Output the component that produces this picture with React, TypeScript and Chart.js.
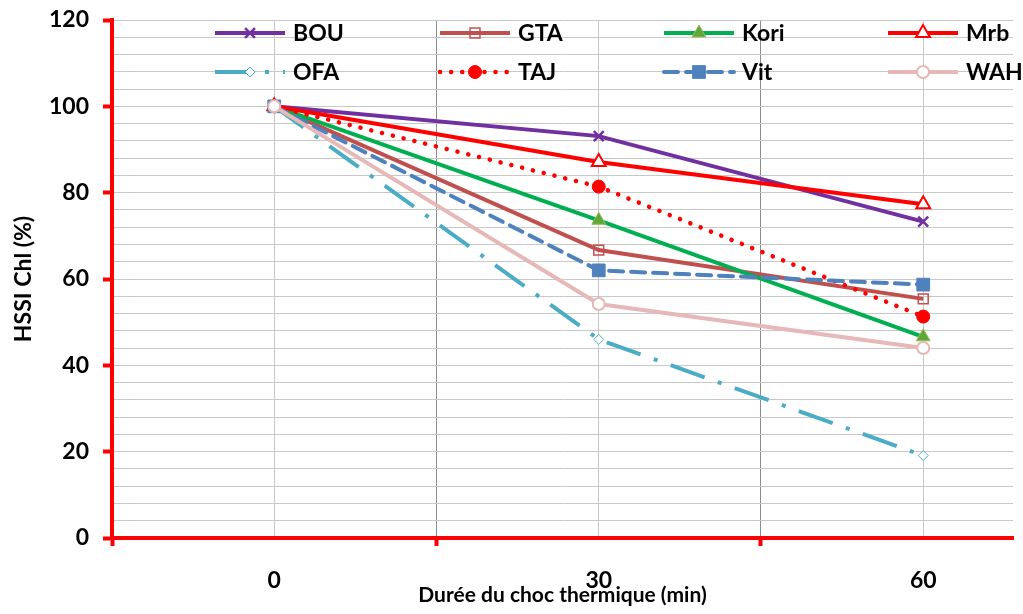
import React, { useEffect, useRef } from 'react';
import { Chart, registerables } from 'chart.js';
import { drawPoint } from 'chart.js/helpers';

Chart.register(...registerables);

// ---- data ----
const durations = [0, 30, 60];
const xTickLabels = ['0', '30', '60'];
const seriesNames = ['BOU', 'GTA', 'Kori', 'Mrb', 'OFA', 'TAJ', 'Vit', 'WAH'];
const bou = [100, 93.1, 73.3];
const gta = [100, 66.7, 55.4];
const kori = [100, 73.6, 46.6];
const mrb = [100, 87.1, 77.3];
const ofa = [100, 46.0, 19.1];
const taj = [100, 81.4, 51.3];
const vit = [100, 62.0, 58.7];
const wah = [100, 54.2, 44.0];
const seriesValues = [bou, gta, kori, mrb, ofa, taj, vit, wah];
const yLabelStep = 20;
const yGridStep = 4;
const xBoundaries = [-15, 15, 45];

// ---- styles ----
const styles = [
  { color: '#7030A0', dash: [], cap: 'butt', width: 4, pointStyle: 'crossRot', radius: 7, fill: '#7030A0', pointBorder: '#7030A0', pbw: 2.5 },
  { color: '#C0504D', dash: [], cap: 'butt', width: 4, pointStyle: 'rect', radius: 7, fill: 'rgba(255,255,255,0)', pointBorder: '#C0504D', pbw: 1.5 },
  { color: '#00B050', dash: [], cap: 'butt', width: 4, pointStyle: 'triangle', radius: 8, fill: '#5DA83A', pointBorder: '#9BBB59', pbw: 1 },
  { color: '#FF0000', dash: [], cap: 'butt', width: 4, pointStyle: 'triangle', radius: 8, fill: '#FFFFFF', pointBorder: '#FF0000', pbw: 2 },
  { color: '#4BACC6', dash: [36, 14, 4, 14], cap: 'butt', width: 4, pointStyle: 'rectRot', radius: 5, fill: '#FFFFFF', pointBorder: '#4BACC6', pbw: 1 },
  { color: '#FF0000', dash: [0.1, 11], cap: 'round', width: 4.5, pointStyle: 'circle', radius: 6.5, fill: '#FF0000', pointBorder: '#FF0000', pbw: 1 },
  { color: '#4F81BD', dash: [14, 8], cap: 'round', width: 4, pointStyle: 'rect', radius: 9, fill: '#4F81BD', pointBorder: '#4F81BD', pbw: 1 },
  { color: '#E6B8B7', dash: [], cap: 'butt', width: 4, pointStyle: 'circle', radius: 6, fill: '#FFFFFF', pointBorder: '#E6B8B7', pbw: 2 },
];

const FONT = 'Lato';

const legendPlugin = {
  id: 'customLegend',
  afterDraw(chart: any) {
    const ctx = chart.ctx;
    const cols = [215, 440, 664, 888];
    const rows = [33, 72];
    chart.data.datasets.forEach((ds: any, i: number) => {
      const x0 = cols[i % 4];
      const y = rows[Math.floor(i / 4)];
      const x1 = x0 + 70;
      ctx.save();
      ctx.strokeStyle = ds.borderColor;
      ctx.lineWidth = ds.borderWidth;
      ctx.lineCap = ds.borderCapStyle || 'butt';
      ctx.setLineDash(ds.borderDash || []);
      ctx.beginPath();
      ctx.moveTo(x0, y);
      ctx.lineTo(x1, y);
      ctx.stroke();
      ctx.setLineDash([]);
      ctx.lineCap = 'butt';
      ctx.fillStyle = ds.pointBackgroundColor;
      ctx.strokeStyle = ds.pointBorderColor;
      ctx.lineWidth = ds.pointBorderWidth;
      drawPoint(ctx, { pointStyle: ds.pointStyle, radius: ds.pointRadius, rotation: 0, borderWidth: ds.pointBorderWidth }, (x0 + x1) / 2, y);
      ctx.fillStyle = '#000';
      ctx.font = `bold 23px ${FONT}`;
      ctx.textBaseline = 'middle';
      ctx.textAlign = 'left';
      ctx.fillText(ds.label, x1 + 8, y + 1);
      ctx.restore();
    });
  },
};

export default function App() {
  const ref = useRef<HTMLCanvasElement>(null);
  useEffect(() => {
    if (!ref.current) return;
    Chart.defaults.font.family = FONT;
    const datasets = seriesNames.map((name, i) => {
      const s = styles[i];
      return {
        label: name,
        data: durations.map((d, j) => ({ x: d, y: seriesValues[i][j] })),
        borderColor: s.color,
        backgroundColor: s.color,
        borderWidth: s.width,
        borderDash: s.dash,
        borderCapStyle: s.cap,
        pointStyle: s.pointStyle,
        pointRadius: s.radius,
        pointBackgroundColor: s.fill,
        pointBorderColor: s.pointBorder,
        pointBorderWidth: s.pbw,
        tension: 0,
        fill: false,
        order: seriesNames.length - i,
      };
    });
    const chart = new Chart(ref.current, {
      type: 'line',
      data: { datasets },
      plugins: [legendPlugin],
      options: {
        animation: false,
        responsive: true,
        maintainAspectRatio: false,
        layout: { padding: { top: 20, left: 0, right: 0, bottom: 0 } },
        plugins: { legend: { display: false }, tooltip: { enabled: false } },
        scales: {
          x: {
            type: 'linear',
            min: -15,
            max: 68.3,
            afterBuildTicks: (s: any) => {
              s.ticks = [-15, 0, 15, 30, 45, 60].map((v) => ({ value: v }));
            },
            afterFit: (s: any) => {
              s.height = 76;
            },
            ticks: {
              autoSkip: false,
              maxRotation: 0,
              padding: 21,
              color: '#000',
              font: { size: 23, weight: 'bold' },
              callback: (v: any) => {
                const i = durations.indexOf(Number(v));
                return i >= 0 ? xTickLabels[i] : '';
              },
            },
            grid: {
              color: (c: any) => (c.tick && (c.tick.value === 15 || c.tick.value === 45) ? '#8c8c8c' : '#c8c8c8'),
              lineWidth: 1,
              tickLength: 8,
              tickWidth: 4,
              tickColor: (c: any) => (c.tick && xBoundaries.includes(c.tick.value) ? '#FF0000' : 'rgba(0,0,0,0)'),
            },
            border: { color: '#FF0000', width: 4 },
            title: {
              display: true,
              text: 'Durée du choc thermique (min)',
              color: '#000',
              font: { size: 21, weight: 'bold' },
              padding: { top: 0, bottom: 6 },
            },
          },
          y: {
            min: 0,
            max: 120,
            afterFit: (s: any) => {
              s.width = 112;
              s.paddingTop = 0;
              s.paddingBottom = 0;
            },
            ticks: {
              stepSize: yGridStep,
              autoSkip: false,
              padding: 14,
              color: '#000',
              font: { size: 23, weight: 'bold' },
              callback: (v: any) => (Number(v) % yLabelStep === 0 ? String(v) : ''),
            },
            grid: {
              color: '#c8c8c8',
              lineWidth: 1,
              tickLength: 9,
              tickWidth: 4,
              tickColor: (c: any) => (c.tick && c.tick.value % yLabelStep === 0 ? '#FF0000' : 'rgba(0,0,0,0)'),
            },
            border: { color: '#FF0000', width: 4 },
            title: {
              display: true,
              text: 'HSSI Chl (%)',
              color: '#000',
              font: { size: 23, weight: 'bold' },
              padding: { top: 10, bottom: 0 },
            },
          },
        },
      },
    } as any);
    return () => chart.destroy();
  }, []);
  return (
    <div style={{ position: 'fixed', left: 0, top: 0, width: 1023, height: 614, background: '#fff' }}>
      <canvas ref={ref} />
    </div>
  );
}
